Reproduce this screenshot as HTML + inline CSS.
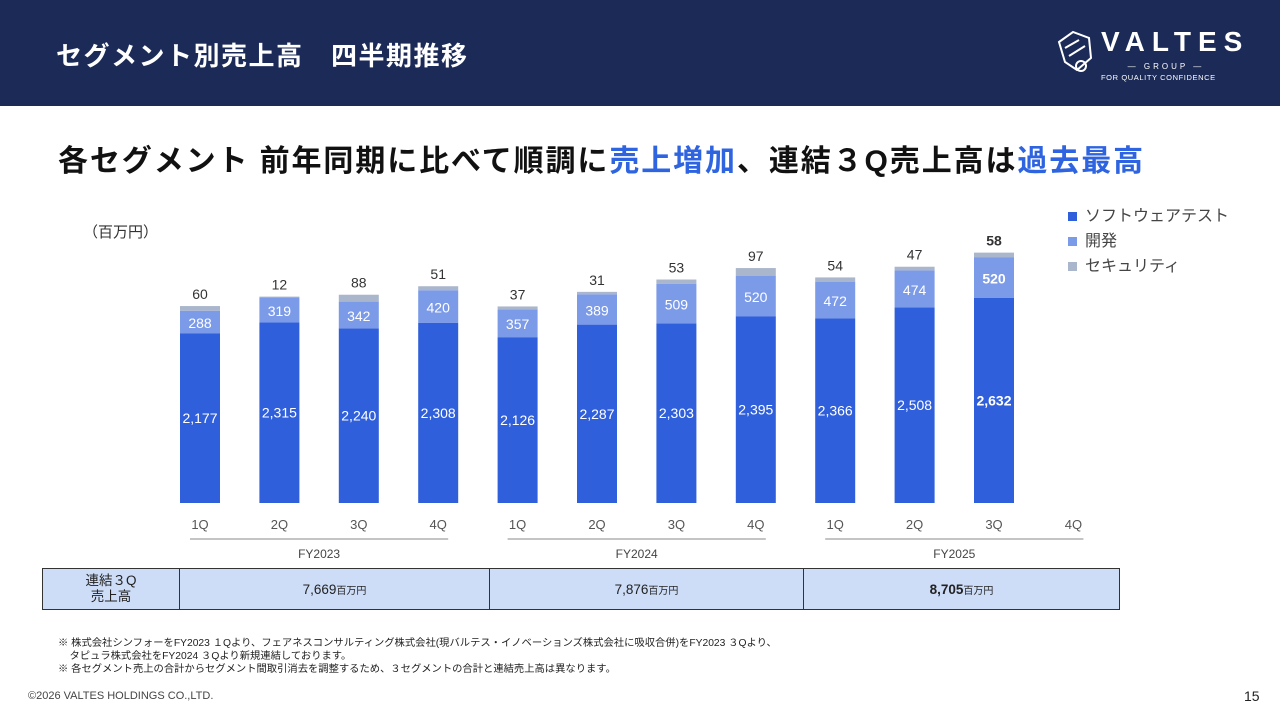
<!DOCTYPE html>
<html><head><meta charset="utf-8"><style>
body{margin:0;width:1280px;height:720px;position:relative;background:#fff;font-family:"Liberation Sans","Noto Sans CJK JP",sans-serif;overflow:hidden}
.abs{position:absolute}
</style></head><body>
<div class="abs" style="left:0;top:0;width:1280px;height:106px;background:#1b2a57"></div>
<div class="abs" style="left:56px;top:36px;color:#fff;font-size:26px;font-weight:bold;letter-spacing:1.5px;white-space:nowrap">セグメント別売上高　四半期推移</div>
<div class="abs" style="left:1055px;top:28px;width:180px;height:58px;color:#fff">
 <svg class="abs" style="left:0;top:0" width="40" height="46" viewBox="0 0 40 46"><path d="M4 14 L18 4 L34 10 L36 30 L22 42 L10 34 Z M10 20 L24 12 M14 28 L30 18" fill="none" stroke="#fff" stroke-width="2"/><circle cx="26" cy="38" r="5" fill="none" stroke="#fff" stroke-width="2"/></svg>
 <div class="abs" style="left:46px;top:-2px;font-size:28px;font-weight:bold;letter-spacing:7px">VALTES</div>
 <div class="abs" style="left:46px;top:34px;font-size:8px;letter-spacing:3px;width:130px;text-align:center">— GROUP —</div>
 <div class="abs" style="left:46px;top:45px;font-size:7.5px;letter-spacing:0.6px">FOR QUALITY CONFIDENCE</div>
</div>
<div class="abs" style="left:58px;top:136px;font-size:30px;font-weight:bold;color:#111;white-space:nowrap;letter-spacing:1.9px">各セグメント 前年同期に比べて順調に<span style="color:#2f64e0">売上増加</span>、連結３Q売上高は<span style="color:#2f64e0">過去最高</span></div>
<div class="abs" style="left:83px;top:221px;font-size:15px;color:#333">（百万円）</div>
<svg class="abs" style="left:0;top:0" width="1280" height="720" id="chart"></svg>
<div class="abs" style="left:1068px;top:204px;font-size:16px;color:#444;line-height:25px">
 <div><span style="display:inline-block;width:9px;height:9px;background:#2f5fdb;margin-right:8px"></span>ソフトウェアテスト</div>
 <div><span style="display:inline-block;width:9px;height:9px;background:#7b9ae8;margin-right:8px"></span>開発</div>
 <div><span style="display:inline-block;width:9px;height:9px;background:#aab6cc;margin-right:8px"></span>セキュリティ</div>
</div>
<table class="abs" style="left:42px;top:568px;width:1078px;height:42px;border-collapse:collapse;background:#cddcf7;font-size:13.5px;color:#222;table-layout:fixed">
<tr>
<td style="width:134px;border:1.5px solid #333;text-align:center;line-height:16px">連結３Q<br>売上高</td>
<td style="width:307px;border:1.5px solid #333;text-align:center">7,669<span style="font-size:10px">百万円</span></td>
<td style="width:311px;border:1.5px solid #333;text-align:center">7,876<span style="font-size:10px">百万円</span></td>
<td style="border:1.5px solid #333;text-align:center;font-weight:bold">8,705<span style="font-size:10px;font-weight:normal">百万円</span></td>
</tr></table>
<div class="abs" style="left:58px;top:637px;font-size:10.3px;color:#222;line-height:13px;white-space:nowrap">
※ 株式会社シンフォーをFY2023 １Qより、フェアネスコンサルティング株式会社(現バルテス・イノベーションズ株式会社に吸収合併)をFY2023 ３Qより、<br>
&nbsp;&nbsp;&nbsp;&nbsp;タピュラ株式会社をFY2024 ３Qより新規連結しております。<br>
※ 各セグメント売上の合計からセグメント間取引消去を調整するため、３セグメントの合計と連結売上高は異なります。</div>
<div class="abs" style="left:28px;top:690px;font-size:11px;color:#444">©2026 VALTES HOLDINGS CO.,LTD.</div>
<div class="abs" style="left:1244px;top:688px;font-size:14px;color:#222">15</div>
<script>
const quarters=["1Q","2Q","3Q","4Q","1Q","2Q","3Q","4Q","1Q","2Q","3Q","4Q"];
const software=[2177,2315,2240,2308,2126,2287,2303,2395,2366,2508,2632,null];
const development=[288,319,342,420,357,389,509,520,472,474,520,null];
const security=[60,12,88,51,37,31,53,97,54,47,58,null];
const years=["FY2023","FY2024","FY2025"];
const svg=document.getElementById('chart');
const NS='http://www.w3.org/2000/svg';
const base=503,k=0.078,x0=200,step=79.4,bw=40;
const xs=i=>x0+i*step; const h=v=>v*k;
function el(t,a,txt){const e=document.createElementNS(NS,t);for(const n in a)e.setAttribute(n,a[n]);if(txt!=null)e.textContent=txt;svg.appendChild(e);return e;}
quarters.forEach((q,i)=>{
 const t=el('text',{x:xs(i),y:529,'text-anchor':'middle','font-size':13,fill:'#555'},q);
 
 
 if(software[i]==null)return;
 const bold=i===10?'bold':'normal';
 let y=base;
 const segs=[[software[i],'#2f5fdb'],[development[i],'#7b9ae8'],[security[i],'#aab6cc']];
 const mids=[];
 segs.forEach(([v,c],j)=>{const hh=h(v);y-=hh;const r=el('rect',{x:xs(i)-bw/2,y:y,width:bw,height:hh,fill:c});
  
  
  mids.push(y+hh/2);});
 const l1=el('text',{x:xs(i),y:mids[0]+5,'text-anchor':'middle','font-size':14,fill:'#fff','font-weight':bold},software[i].toLocaleString('en-US'));
 
 
 const l2=el('text',{x:xs(i),y:mids[1]+6,'text-anchor':'middle','font-size':14,fill:'#fff','font-weight':bold},development[i]);
 
 
 const l3=el('text',{x:xs(i),y:y-7,'text-anchor':'middle','font-size':14,fill:'#333','font-weight':bold},security[i]);
 
 
});
years.forEach((yr,g)=>{
 const a=xs(g*4)-10,b=xs(g*4+3)+10;
 const ln=el('line',{x1:a,y1:539,x2:b,y2:539,stroke:'#888','stroke-width':1});
 
 
 const t=el('text',{x:(a+b)/2,y:558,'text-anchor':'middle','font-size':12,fill:'#444'},yr);
 
 
});
</script>
</body></html>
